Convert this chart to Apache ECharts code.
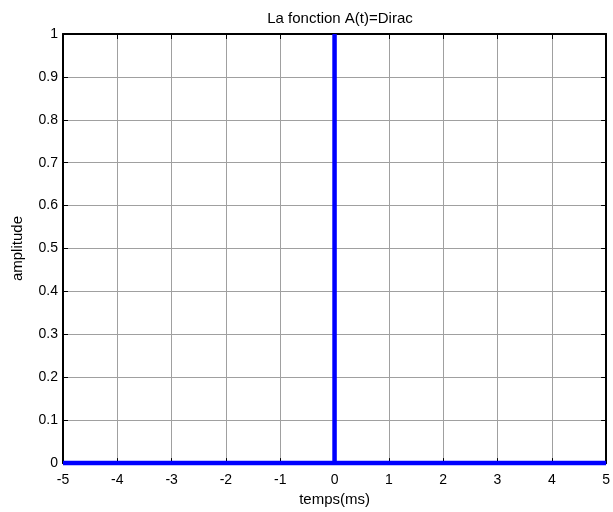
<!DOCTYPE html>
<html>
<head>
<meta charset="utf-8">
<script src="https://cdn.jsdelivr.net/npm/echarts@6/dist/echarts.min.js"></script>
<style>
  html, body { margin: 0; padding: 0; background: #fff; }
  #chart { width: 613px; height: 512px; }
</style>
</head>
<body>
<div id="chart"></div>
<script>
// Dirac impulse sampled as a polyline: flat at 0, a spike to 1 at t = 0
var temps = [-5, 0, 0, 0, 5];
var amplitude = [0, 0, 1, 0, 0];

var xTicks = [-5, -4, -3, -2, -1, 0, 1, 2, 3, 4, 5];
var yTicks = [0, 0.1, 0.2, 0.3, 0.4, 0.5, 0.6, 0.7, 0.8, 0.9, 1];

var FONT = 'Liberation Sans, Arial, sans-serif';

var points = temps.map(function (t, i) { return [t, amplitude[i]]; });

var chart = echarts.init(document.getElementById('chart'), null, { renderer: 'canvas' });

var gridLine = { show: true, lineStyle: { color: '#a0a0a0', width: 1 } };
var tickIn = { show: true, inside: true, length: 5, lineStyle: { color: '#000', width: 1 } };
var frame = { show: true, onZero: false, lineStyle: { color: '#000', width: 2 } };

chart.setOption({
  animation: false,
  backgroundColor: '#fff',
  title: {
    text: 'La fonction A(t)=Dirac',
    left: 335, top: 6, textAlign: 'center',
    textStyle: { fontFamily: FONT, fontSize: 15, fontWeight: 'normal', color: '#000' }
  },
  grid: { left: 63, right: 4, top: 34, bottom: 47, show: false },
  xAxis: [{
    type: 'value', min: xTicks[0], max: xTicks[xTicks.length - 1], interval: 1,
    name: 'temps(ms)', nameLocation: 'middle', nameGap: 27,
    nameTextStyle: { fontFamily: FONT, fontSize: 15, color: '#000' },
    axisLine: frame,
    axisTick: tickIn,
    axisLabel: { fontFamily: FONT, fontSize: 14, color: '#000', margin: 10 },
    splitLine: gridLine
  }, {
    type: 'value', position: 'top', min: xTicks[0], max: xTicks[xTicks.length - 1], interval: 1,
    axisLine: frame,
    axisTick: tickIn, axisLabel: { show: false }, splitLine: { show: false }
  }],
  yAxis: [{
    type: 'value', min: yTicks[0], max: yTicks[yTicks.length - 1], interval: 0.1,
    name: 'amplitude', nameLocation: 'middle', nameGap: 38, nameRotate: 90,
    nameTextStyle: { fontFamily: FONT, fontSize: 15, color: '#000' },
    axisLine: frame,
    axisTick: tickIn,
    axisLabel: {
      fontFamily: FONT, fontSize: 14, color: '#000', margin: 5,
      formatter: function (v) { return String(Math.round(v * 10) / 10); }
    },
    splitLine: gridLine
  }, {
    type: 'value', position: 'right', min: yTicks[0], max: yTicks[yTicks.length - 1], interval: 0.1,
    axisLine: frame,
    axisTick: tickIn, axisLabel: { show: false }, splitLine: { show: false }
  }],
  series: [{
    type: 'line',
    data: points,
    xAxisIndex: 0, yAxisIndex: 0,
    showSymbol: false,
    clip: false,
    z: 10,
    lineStyle: { color: '#0000ff', width: 4.5 },
    itemStyle: { color: '#0000ff' }
  }]
});
</script>
</body>
</html>
